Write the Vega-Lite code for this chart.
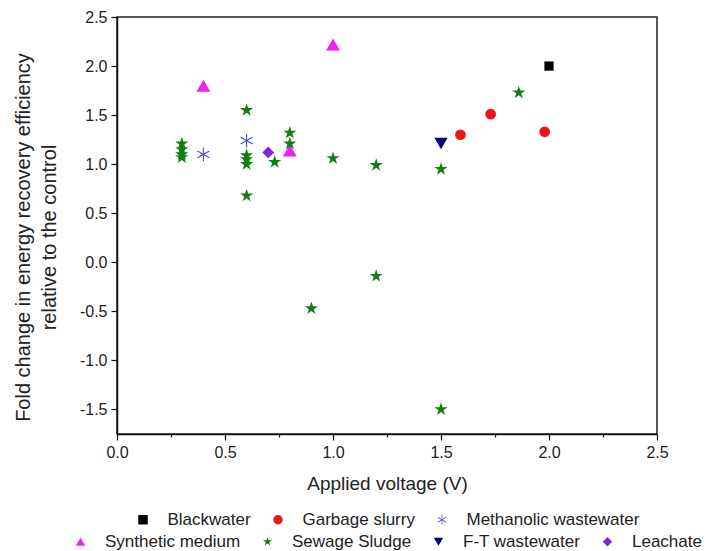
{
  "$schema": "https://vega.github.io/schema/vega-lite/v6.json",
  "width": 540,
  "height": 417,
  "autosize": {"type": "none"},
  "padding": {"left": 117, "top": 17, "right": 52, "bottom": 117},
  "background": "white",
  "datasets": {
    "g1": [
      {"v": 2.0, "f": 2.0, "s": "Blackwater"},
      {"v": 1.59, "f": 1.30, "s": "Garbage slurry"},
      {"v": 1.73, "f": 1.51, "s": "Garbage slurry"},
      {"v": 1.98, "f": 1.33, "s": "Garbage slurry"},
      {"v": 0.4, "f": 1.10, "s": "Methanolic wastewater"},
      {"v": 0.6, "f": 1.24, "s": "Methanolic wastewater"}
    ],
    "g2": [
      {"v": 0.4, "f": 1.80, "s": "Synthetic medium"},
      {"v": 1.0, "f": 2.22, "s": "Synthetic medium"},
      {"v": 0.8, "f": 1.14, "s": "Synthetic medium"},
      {"v": 0.3, "f": 1.21, "s": "Sewage Sludge"},
      {"v": 0.3, "f": 1.15, "s": "Sewage Sludge"},
      {"v": 0.3, "f": 1.10, "s": "Sewage Sludge"},
      {"v": 0.3, "f": 1.07, "s": "Sewage Sludge"},
      {"v": 0.6, "f": 1.55, "s": "Sewage Sludge"},
      {"v": 0.6, "f": 1.09, "s": "Sewage Sludge"},
      {"v": 0.6, "f": 1.05, "s": "Sewage Sludge"},
      {"v": 0.6, "f": 1.00, "s": "Sewage Sludge"},
      {"v": 0.6, "f": 0.68, "s": "Sewage Sludge"},
      {"v": 0.73, "f": 1.02, "s": "Sewage Sludge"},
      {"v": 0.8, "f": 1.32, "s": "Sewage Sludge"},
      {"v": 0.8, "f": 1.21, "s": "Sewage Sludge"},
      {"v": 0.9, "f": -0.47, "s": "Sewage Sludge"},
      {"v": 1.0, "f": 1.06, "s": "Sewage Sludge"},
      {"v": 1.2, "f": 0.99, "s": "Sewage Sludge"},
      {"v": 1.2, "f": -0.14, "s": "Sewage Sludge"},
      {"v": 1.5, "f": 0.95, "s": "Sewage Sludge"},
      {"v": 1.5, "f": -1.50, "s": "Sewage Sludge"},
      {"v": 1.86, "f": 1.73, "s": "Sewage Sludge"},
      {"v": 1.5, "f": 1.21, "s": "F-T wastewater"},
      {"v": 0.7, "f": 1.12, "s": "Leachate"}
    ]
  },
  "config": {
    "font": "Liberation Sans",
    "view": {"stroke": "#222222", "strokeWidth": 1.5},
    "axis": {
      "domainColor": "#111111",
      "domainWidth": 1.5,
      "tickColor": "#111111",
      "tickWidth": 1.2,
      "labelFontSize": 16,
      "labelColor": "#222222",
      "labelFont": "Liberation Sans",
      "titleFont": "Liberation Sans",
      "titleFontSize": 19,
      "titleFontWeight": "normal",
      "titleColor": "#222222",
      "grid": false,
      "labelPadding": 4
    },
    "legend": {
      "layout": {"bottom": {"direction": "vertical", "anchor": "middle", "center": true, "margin": 5}}
    }
  },
  "layer": [
    {
      "mark": {"type": "rule", "color": "#3f6fd8", "strokeDash": [9, 4, 2, 4], "strokeWidth": 1.2},
      "encoding": {"y": {"datum": 1.0, "type": "quantitative"}}
    },
    {
      "data": {"name": "g1"},
      "mark": {"type": "point", "filled": true, "opacity": 1},
      "encoding": {
        "x": {
          "field": "v", "type": "quantitative",
          "scale": {"domain": [0, 2.5], "nice": false, "zero": false},
          "axis": {
            "title": "Applied voltage (V)",
            "values": [0, 0.25, 0.5, 0.75, 1, 1.25, 1.5, 1.75, 2, 2.25, 2.5],
            "labelExpr": "abs(datum.value*2 - round(datum.value*2)) < 0.001 ? replace(format(datum.value, '.1f'), '\u2212', '-') : ''",
            "tickSize": {"condition": {"test": "abs(datum.value*2 - round(datum.value*2)) < 0.001", "value": 6}, "value": 3},
            "titlePadding": 14,
            "labelFlush": false
          }
        },
        "y": {
          "field": "f", "type": "quantitative",
          "scale": {"domain": [-1.75, 2.5], "nice": false, "zero": false},
          "axis": {
            "title": ["Fold change in energy recovery efficiency", "relative to the control"],
            "titleFontSize": 20,
            "titleY": 220,
            "values": [-1.5, -1.25, -1, -0.75, -0.5, -0.25, 0, 0.25, 0.5, 0.75, 1, 1.25, 1.5, 1.75, 2, 2.25, 2.5],
            "labelExpr": "abs(datum.value*2 - round(datum.value*2)) < 0.001 ? replace(format(datum.value, '.1f'), '\u2212', '-') : ''",
            "tickSize": {"condition": {"test": "abs(datum.value*2 - round(datum.value*2)) < 0.001", "value": 6}, "value": 3},
            "titlePadding": 20,
            "titleLineHeight": 26,
            "labelFlush": false
          }
        },
        "color": {
          "field": "s", "type": "nominal",
          "scale": {"domain": ["Blackwater", "Garbage slurry", "Methanolic wastewater"], "range": ["#000000", "#f01515", "#5050d0"]},
          "legend": {"title": null, "orient": "bottom", "direction": "horizontal", "labelFontSize": 17, "labelColor": "#222222", "labelLimit": 400, "symbolSize": 90, "labelOffset": 16, "columnPadding": 18, "offset": 18}
        },
        "shape": {
          "field": "s", "type": "nominal",
          "scale": {"domain": ["Blackwater", "Garbage slurry", "Methanolic wastewater"], "range": ["square", "circle", "M-0.08,-1L0.08,-1L0.08,1L-0.08,1ZM-0.906,-0.431L-0.826,-0.569L0.906,0.431L0.826,0.569ZM-0.826,0.569L-0.906,0.431L0.826,-0.569L0.906,-0.431Z"]},
          "legend": {"title": null, "orient": "bottom", "direction": "horizontal", "labelFontSize": 17, "labelColor": "#222222", "labelLimit": 400, "symbolSize": 90, "labelOffset": 16, "columnPadding": 18, "offset": 18}
        },
        "size": {
          "field": "s", "type": "nominal",
          "scale": {"type": "ordinal", "domain": ["Blackwater", "Garbage slurry", "Methanolic wastewater", "Synthetic medium", "Sewage Sludge", "F-T wastewater", "Leachate"], "range": [85, 115, 190, 195, 190, 175, 140]},
          "legend": null
        }
      }
    },
    {
      "data": {"name": "g2"},
      "mark": {"type": "point", "filled": true, "opacity": 1},
      "encoding": {
        "x": {"field": "v", "type": "quantitative"},
        "y": {"field": "f", "type": "quantitative"},
        "color": {
          "field": "s", "type": "nominal",
          "scale": {"domain": ["Synthetic medium", "Sewage Sludge", "F-T wastewater", "Leachate"], "range": ["#f020f0", "#127d12", "#000080", "#8025e0"]},
          "legend": {"title": null, "orient": "bottom", "direction": "horizontal", "labelFontSize": 17, "labelColor": "#222222", "labelLimit": 400, "symbolSize": 90, "labelOffset": 16, "columnPadding": 18, "offset": 18}
        },
        "shape": {
          "field": "s", "type": "nominal",
          "scale": {"domain": ["Synthetic medium", "Sewage Sludge", "F-T wastewater", "Leachate"], "range": ["triangle-up", "M0,-1L0.2245,-0.309L0.951,-0.309L0.363,0.118L0.588,0.809L0,0.382L-0.588,0.809L-0.363,0.118L-0.951,-0.309L-0.2245,-0.309Z", "triangle-down", "diamond"]},
          "legend": {"title": null, "orient": "bottom", "direction": "horizontal", "labelFontSize": 17, "labelColor": "#222222", "labelLimit": 400, "symbolSize": 90, "labelOffset": 16, "columnPadding": 18, "offset": 18}
        },
        "size": {
          "field": "s", "type": "nominal",
          "scale": {"type": "ordinal", "domain": ["Blackwater", "Garbage slurry", "Methanolic wastewater", "Synthetic medium", "Sewage Sludge", "F-T wastewater", "Leachate"], "range": [85, 115, 190, 195, 190, 175, 140]},
          "legend": null
        }
      }
    }
  ],
  "resolve": {"scale": {"color": "independent", "shape": "independent"}}
}
